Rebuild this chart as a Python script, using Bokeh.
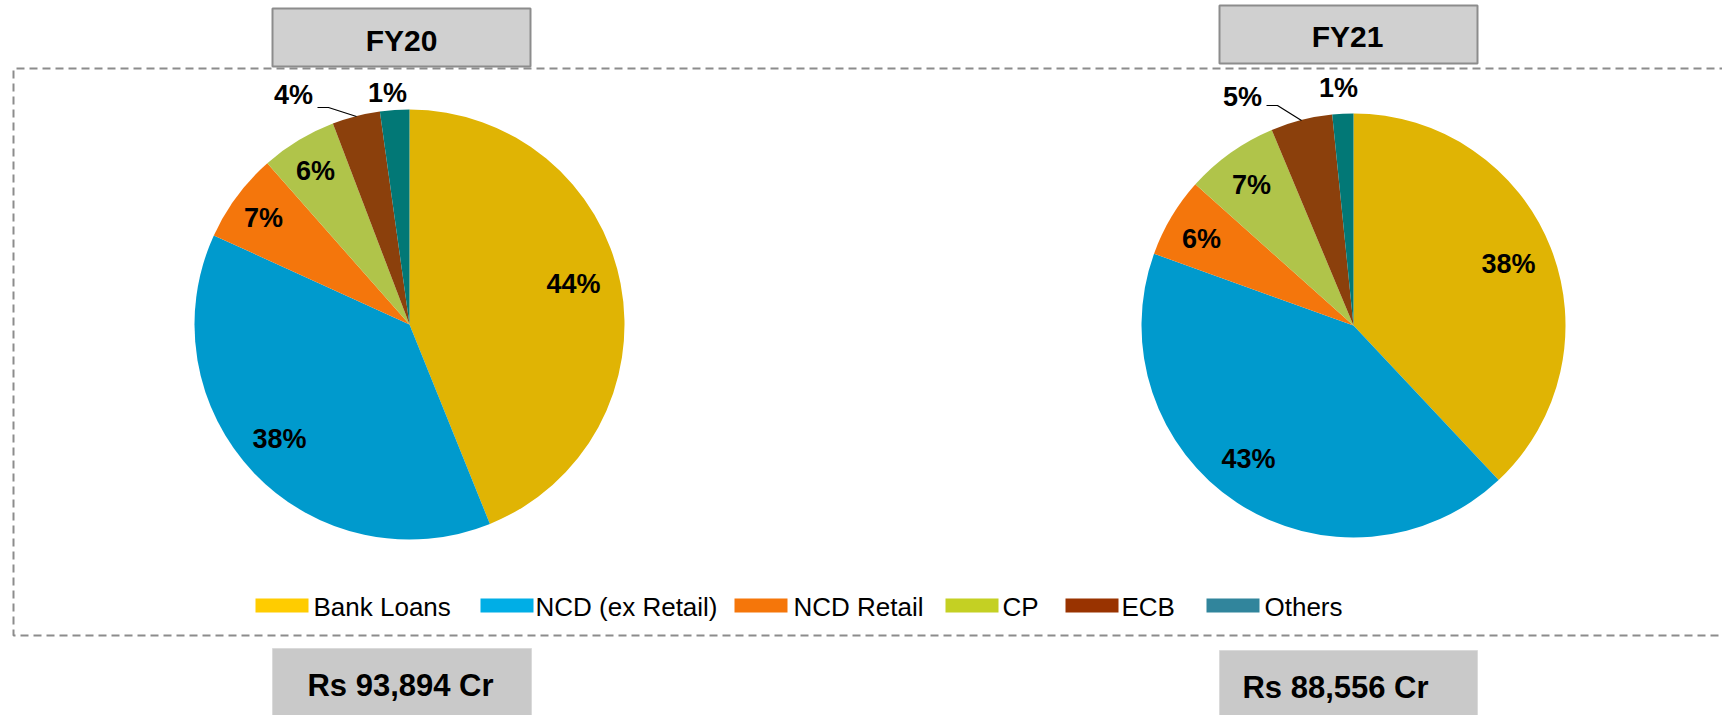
import numpy as np
from bokeh.plotting import figure
from bokeh.models import Range1d, ColumnDataSource
from bokeh.core.properties import value
from bokeh.embed import file_html
from bokeh.resources import INLINE

# ---------------- data ----------------
categories = ["Bank Loans", "NCD (ex Retail)", "NCD Retail", "CP", "ECB", "Others"]
years = ["FY20", "FY21"]
fy20_share = [43.9, 37.9, 6.7, 5.7, 3.6, 2.2]
fy21_share = [38.0, 42.5, 6.1, 7.1, 4.7, 1.6]
fy20_labels = ["44%", "38%", "7%", "6%", "4%", "1%"]
fy21_labels = ["38%", "43%", "6%", "7%", "5%", "1%"]
totals = ["Rs 93,894 Cr", "Rs 88,556 Cr"]

# ---------------- styles ----------------
pie_colors = ["#E0B404", "#009ACD", "#F4760C", "#B0C44A", "#8B400C", "#027876"]
legend_colors = ["#FFCC00", "#00AEE6", "#F5760A", "#C4D023", "#993300", "#31859C"]
FONT = value("Liberation Sans")

W, H = 1722, 715
PAGE_H = 715
DY = 10  # text baseline correction


def Y(y):
    # page y (downwards) -> data y (upwards)
    return PAGE_H - y


def TY(y):
    return PAGE_H - (y - DY)


p = figure(width=W, height=H, output_backend="svg", toolbar_location=None,
           x_range=Range1d(0, W), y_range=Range1d(0, H),
           min_border=0)
p.axis.visible = False
p.grid.visible = False
p.outline_line_color = None
p.background_fill_color = "white"

# dashed frame
fx0, fy0, fx1, fy1 = 13, 68, 1740, 635
p.line([fx1, fx0, fx0, fx1], [Y(fy0), Y(fy0), Y(fy1), Y(fy1)],
       line_color="#8C8C8C", line_width=2, line_dash="8 5")

# pies
pie_layout = [
    dict(cx=409, cy=324, r=215,
         lab_x=[573, 279, 263, 315, 293, 387],
         lab_y=[293, 448, 227, 180, 104, 102],
         leader=([317, 328, 356], [107, 107, 116])),
    dict(cx=1353, cy=325, r=212,
         lab_x=[1508, 1248, 1201, 1251, 1242, 1338],
         lab_y=[273, 468, 248, 194, 106, 97],
         leader=([1266, 1277, 1301], [105, 105, 120])),
]
shares = [fy20_share, fy21_share]
labels = [fy20_labels, fy21_labels]

for lay, share, labs in zip(pie_layout, shares, labels):
    s = np.array(share, dtype=float)
    frac = s / s.sum()
    cum = np.concatenate([[0.0], np.cumsum(frac)])
    start = np.pi / 2 - 2 * np.pi * cum[:-1]
    end = np.pi / 2 - 2 * np.pi * cum[1:]
    src = ColumnDataSource(dict(start=start, end=end, color=pie_colors, cat=categories))
    p.wedge(x=lay["cx"], y=Y(lay["cy"]), radius=lay["r"], start_angle="start",
            end_angle="end", direction="clock", fill_color="color",
            line_color=None, source=src)
    lx, ly = lay["leader"]
    p.line(lx, [Y(v) for v in ly], line_color="black", line_width=1.2)
    tsrc = ColumnDataSource(dict(x=lay["lab_x"], y=[TY(v) for v in lay["lab_y"]], t=labs))
    p.text(x="x", y="y", text="t", source=tsrc, text_font=FONT,
           text_font_style="bold", text_font_size="27px", text_color="black",
           text_align="center", text_baseline="alphabetic")

# title boxes
title_boxes = [(272, 530, 8, 66, 401, 50), (1219, 1477, 5, 63, 1347, 46)]
for (x0, x1, y0, y1, tx, ty), yr in zip(title_boxes, years):
    p.quad(left=x0, right=x1, top=Y(y0), bottom=Y(y1), fill_color="#D0D0D0",
           line_color="#8C8C8C", line_width=2)
    p.text(x=[tx], y=[TY(ty)], text=[yr], text_font=FONT, text_font_style="bold",
           text_font_size="30px", text_color="black", text_align="center",
           text_baseline="alphabetic")

# total boxes
total_boxes = [(272, 531, 648, 400, 695), (1219, 1477, 650, 1335, 697)]
for (x0, x1, y0, tx, ty), tot in zip(total_boxes, totals):
    p.quad(left=x0, right=x1, top=Y(y0), bottom=Y(720), fill_color="#C9C9C9",
           line_color="#DADADA", line_width=1)
    p.text(x=[tx], y=[TY(ty)], text=[tot], text_font=FONT, text_font_style="bold",
           text_font_size="31px", text_color="black", text_align="center",
           text_baseline="alphabetic")

# legend
leg_sq_x = [255, 480, 734, 945, 1065, 1206]
leg_txt_x = [313, 535, 793, 1002, 1121, 1264]
leg_src = ColumnDataSource(dict(l=leg_sq_x, r=[v + 53 for v in leg_sq_x],
                                c=legend_colors))
p.quad(left="l", right="r", top=Y(598), bottom=Y(612), fill_color="c",
       line_color=None, source=leg_src)
p.text(x=leg_txt_x, y=[TY(616)] * len(categories), text=categories, text_font=FONT,
       text_font_size="26px", text_color="black", text_align="left",
       text_baseline="alphabetic")

open("out.html", "w").write(file_html(p, INLINE))
